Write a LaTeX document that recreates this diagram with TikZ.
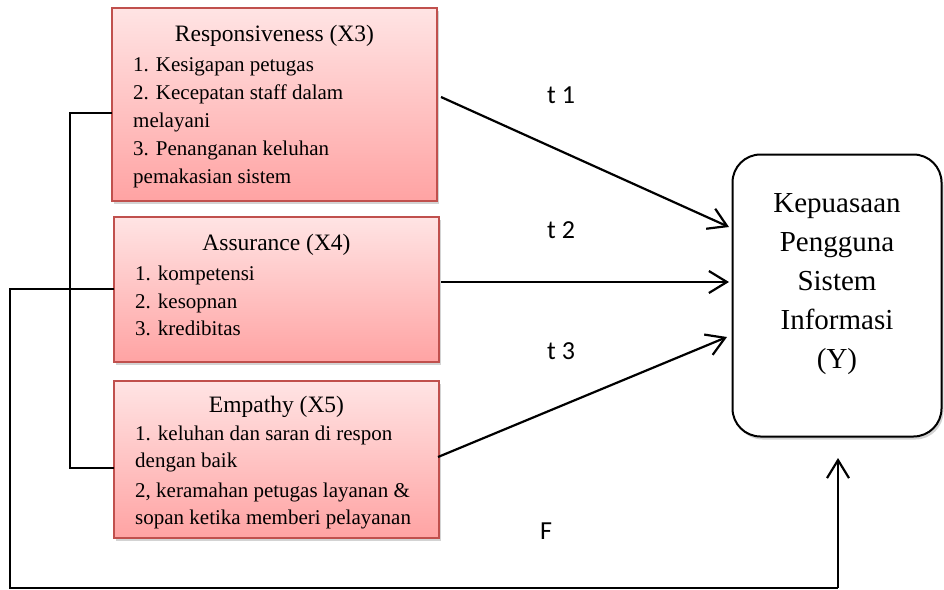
\documentclass[tikz,border=0pt]{standalone}
\usepackage{fontspec}
\setmainfont{Liberation Serif}
\newfontfamily\lblfont{Carlito}
\usetikzlibrary{arrows.meta,shadows}
\definecolor{boxborder}{HTML}{C0504D}
\definecolor{boxtop}{HTML}{FFE4E4}
\definecolor{boxbot}{HTML}{FFA3A3}
\begin{document}
\begin{tikzpicture}[x=1pt,y=-1pt,
  boxstyle/.style={draw=boxborder, line width=1.4pt, top color=boxtop, bottom color=boxbot,
    inner sep=0pt, outer sep=0pt,
    drop shadow={shadow xshift=2pt,shadow yshift=-3pt,opacity=0.35}},
  ybox/.style={draw=black, line width=2pt, fill=white, rounded corners=28pt,
    inner sep=0pt, outer sep=0pt,
    drop shadow={shadow xshift=2pt,shadow yshift=-3pt,opacity=0.35}},
  ttl/.style={inner sep=0pt, font=\fontsize{23.5}{28}\selectfont, anchor=base},
  itm/.style={inner sep=0pt, font=\fontsize{21}{28}\selectfont, anchor=base west},
  ytxt/.style={inner sep=0pt, font=\fontsize{29}{39}\selectfont, anchor=base},
  lbl/.style={inner sep=0pt, font=\lblfont\fontsize{26}{30}\selectfont, anchor=base west},
  conn/.style={draw=black, line width=2.2pt},
  brk/.style={draw=black, line width=1.7pt},
  arr/.style={-{Straight Barb[length=18pt,width=22pt,line width=2.2pt]}}
]
\useasboundingbox (0,0) rectangle (944,589);

% boxes
\node[boxstyle, minimum width=325pt, minimum height=193pt] (x3) at (274.5,104.5) {};
\node[boxstyle, minimum width=325pt, minimum height=145pt] (x4) at (276.5,289.5) {};
\node[boxstyle, minimum width=325pt, minimum height=157pt] (x5) at (276.5,459.5) {};
\node[ybox, minimum width=209pt, minimum height=282pt] (y) at (837,295.5) {};

% X3 text
\node[ttl] (x3t) at (274.5,41) {Responsiveness (X3)};
\node[itm] (x3a) at (133,71) {1. Kesigapan petugas};
\node[itm] (x3b) at (133,99) {2. Kecepatan staff dalam};
\node[itm] (x3c) at (133,127) {melayani};
\node[itm] (x3d) at (133,155) {3. Penanganan keluhan};
\node[itm] (x3e) at (133,183) {pemakasian sistem};

% X4 text
\node[ttl] (x4t) at (276.5,250) {Assurance (X4)};
\node[itm] (x4a) at (135,280) {1. kompetensi};
\node[itm] (x4b) at (135,308) {2. kesopnan};
\node[itm] (x4c) at (135,335) {3. kredibitas};

% X5 text
\node[ttl] (x5t) at (276.5,412) {Empathy (X5)};
\node[itm] (x5a) at (135,440) {1. keluhan dan saran di respon};
\node[itm] (x5b) at (135,467) {dengan baik};
\node[itm] (x5c) at (135,497) {2, keramahan petugas layanan \&};
\node[itm] (x5d) at (135,524) {sopan ketika memberi pelayanan};

% Y text
\node[ytxt] (y1) at (837,212) {Kepuasaan};
\node[ytxt] (y2) at (837,251) {Pengguna};
\node[ytxt] (y3) at (837,290) {Sistem};
\node[ytxt] (y4) at (837,329) {Informasi};
\node[ytxt] (y5) at (837,368) {(Y)};

% labels
\node[lbl] (t1) at (547,103) {t 1};
\node[lbl] (t2) at (547,238) {t 2};
\node[lbl] (t3) at (547,359) {t 3};
\node[lbl] (f) at (540,539) {F};

% arrows
\coordinate (s1) at (441,97);
\coordinate (e1) at (729,227);
\coordinate (s2) at (441,282);
\coordinate (e2) at (729,282);
\coordinate (s3) at (438,457);
\coordinate (e3) at (727,337);
\draw[conn,arr] (s1) -- (e1);
\draw[conn,arr] (s2) -- (e2);
\draw[conn,arr] (s3) -- (e3);

% bracket
\draw[brk] (x3.west |- 0,113) -- (70,113) -- (70,468) -- (x5.west |- 0,468);
\coordinate (fend) at (838,458);
\coordinate (fcorner) at (838,588);
\draw[brk] (x4.west |- 0,289) -- (10,289) -- (10,588) -- (fcorner);
\draw[conn,arr] (fcorner) -- (fend);
\end{tikzpicture}
\end{document}
